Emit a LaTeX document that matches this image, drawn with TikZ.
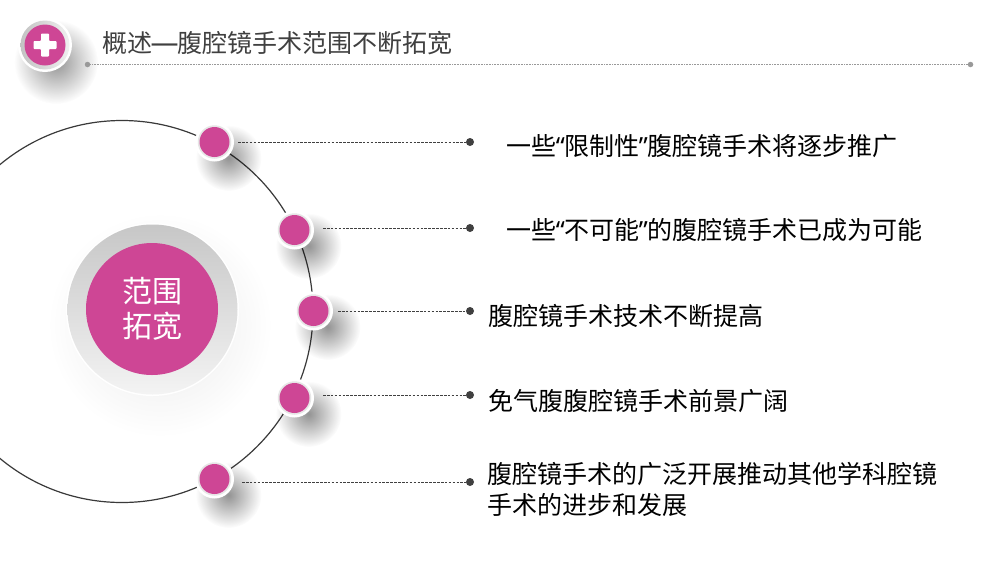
\documentclass[tikz,border=0pt]{standalone}
\usepackage{fontspec}
\setmainfont{Noto Sans CJK SC}
\newfontfamily\quotefont{Noto Sans}
\usetikzlibrary{fadings,shapes.geometric}
\definecolor{pinkm}{HTML}{CE4695}
\definecolor{ringg}{HTML}{D8D8D8}
\definecolor{txtd}{HTML}{404040}
\tikzfading[name=softc, inner color=transparent!35, outer color=transparent!100]
\newcommand{\openq}{{\kern-0.4pt\quotefont “\kern-0.4pt}}
\newcommand{\closeq}{{\kern-0.4pt\quotefont ”\kern-0.4pt}}
\tikzset{
  shadowblob/.style={fill=black, path fading=softc, opacity=0.65},
  whitedisc/.style={circle, fill=white, inner sep=0pt, minimum size=39pt},
  greydisc/.style={circle, fill=ringg!65, inner sep=0pt, minimum size=33.5pt},
  pinkdisc/.style={circle, fill=pinkm, inner sep=0pt, minimum size=30pt},
  enddot/.style={circle, fill=txtd, inner sep=0pt, minimum size=8pt},
  dashline/.style={draw=txtd, line width=0.8pt, dash pattern=on 2.6pt off 1.3pt},
  itemtext/.style={anchor=west, inner sep=0pt, font=\fontsize{25pt}{31pt}\selectfont, text=black, align=left},
}
\newcommand{\smallball}[3]{%
  \fill[shadowblob] (#1+14,#2+16) circle (33);
  \node[whitedisc] (w#3) at (#1,#2) {};
  \node[greydisc] (g#3) at (#1,#2) {};
  \node[pinkdisc] (p#3) at (#1,#2) {};
}
\begin{document}
\begin{tikzpicture}[x=1pt,y=-1pt]
\useasboundingbox (0,0) rectangle (1000,563);
\fill[white] (0,0) rectangle (1000,563);
% large arc
\node[circle, draw=txtd!90!black, line width=1.2pt, minimum size=382pt, inner sep=0pt] (orbit) at (122,311.5) {};
% header
\fill[shadowblob] (56,62) circle (42);
\node[circle, fill=white, inner sep=0pt, minimum size=54pt] (iconw) at (45,45) {};
\node[circle, left color=ringg!90!black, right color=ringg!40, inner sep=0pt, minimum size=49pt] (icong) at (45,45) {};
\node[circle, fill=pinkm, inner sep=0pt, minimum size=41pt] (iconp) at (45,45) {};
\fill[white, rounded corners=0.8pt] (41,33.5) -- (49,33.5) -- (49,41) -- (56.5,41) -- (56.5,49) -- (49,49) -- (49,56.5) -- (41,56.5) -- (41,49) -- (33.5,49) -- (33.5,41) -- (41,41) -- cycle;
\node[anchor=west, inner sep=0pt, text=txtd, font=\fontsize{25pt}{28pt}\selectfont] (title) at (102,43) {概述{\kern-1.5pt\quotefont\fontsize{28pt}{28pt}\selectfont —\kern-1.5pt}腹腔镜手术范围不断拓宽};
\node[circle, fill=gray!80, inner sep=0pt, minimum size=5.5pt] (tl) at (87.5,64.5) {};
\node[circle, fill=gray!80, inner sep=0pt, minimum size=5.5pt] (tr) at (970.5,64.5) {};
\draw[gray!80, line width=1pt, dash pattern=on 1pt off 0.6pt] (tl) -- (tr);
% central disc
\fill[black, path fading=softc, opacity=0.14] (160,325) circle (112);
\node[circle, fill=white, inner sep=0pt, minimum size=173pt] (cw) at (152.5,309.5) {};
\shade[shading angle=45, top color=ringg!92!black, bottom color=ringg!30] (152.5,309.5) circle (85);
\node[circle, fill=pinkm, inner sep=0pt, minimum size=132pt, text=white, align=center, font=\fontsize{30pt}{35pt}\selectfont] (centre) at (152,309) {范围\\拓宽};
% small nodes
\smallball{214.5}{142}{1}
\smallball{294.5}{230}{2}
\smallball{313.5}{311}{3}
\smallball{294.5}{398}{4}
\smallball{214.5}{479}{5}
% connector ends
\node[enddot] (d1) at (470,142) {};
\node[enddot] (d2) at (470,228) {};
\node[enddot] (d3) at (470,311) {};
\node[enddot] (d4) at (470,395) {};
\node[enddot] (d5) at (470,482) {};
\coordinate (b1) at (238,142);
\coordinate (b2) at (323,228);
\coordinate (b3) at (338,311);
\coordinate (b4) at (323,395);
\coordinate (b5) at (242,482);
\draw[dashline] (b1) -- (d1);
\draw[dashline] (b2) -- (d2);
\draw[dashline] (b3) -- (d3);
\draw[dashline] (b4) -- (d4);
\draw[dashline] (b5) -- (d5);
% labels
\node[itemtext] (t1) at (506,146) {一些\openq 限制性\closeq 腹腔镜手术将逐步推广};
\node[itemtext] (t2) at (506,230) {一些\openq 不可能\closeq 的腹腔镜手术已成为可能};
\node[itemtext] (t3) at (488,316) {腹腔镜手术技术不断提高};
\node[itemtext] (t4) at (488,401) {免气腹腹腔镜手术前景广阔};
\node[itemtext] (t5) at (487,489) {腹腔镜手术的广泛开展推动其他学科腔镜\\手术的进步和发展};
\end{tikzpicture}
\end{document}
